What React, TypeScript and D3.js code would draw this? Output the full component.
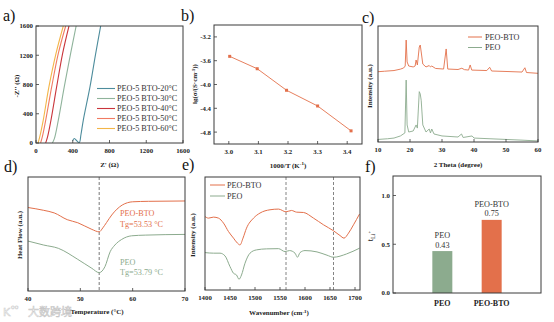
import React from "react";
import * as d3 from "d3";

const SERIF = "'Liberation Serif','Times New Roman',serif";
const ORANGE = "#e3704b";
const GREEN = "#8cab8e";
const AXIS = "#3a3a3a";

// ---------- panel a : EIS ----------
const eisLabels = ["PEO-5 BTO-20°C", "PEO-5 BTO-30°C", "PEO-5 BTO-40°C", "PEO-5 BTO-50°C", "PEO-5 BTO-60°C"];
const eisColors = ["#4d8c9c", "#8fb39b", "#c9353b", "#f07b62", "#f3b548"];
const eis20: [number, number][] = [[399, 30], [417, 62], [445, 30], [471, 5], [490, 120], [515, 314], [588, 770], [650, 1226], [704, 1600]];
const eis30: [number, number][] = [[178, 0], [200, 60], [243, 314], [308, 770], [377, 1226], [437, 1600]];
const eis40: [number, number][] = [[105, 0], [125, 80], [163, 314], [225, 770], [290, 1226], [359, 1600]];
const eis50: [number, number][] = [[50, 0], [70, 90], [106, 314], [171, 770], [243, 1226], [323, 1600]];
const eis60: [number, number][] = [[22, 0], [40, 80], [79, 314], [141, 770], [218, 1226], [297, 1600]];
const eisTicks = [0, 400, 800, 1200, 1600];

// ---------- panel b : Arrhenius ----------
const invT = [3.003, 3.096, 3.195, 3.3, 3.413];
const lgSigma = [-3.527, -3.735, -4.097, -4.361, -4.779];
const bXTicks = [3.0, 3.1, 3.2, 3.3, 3.4];
const bYTicks = [-3.2, -3.6, -4.0, -4.4, -4.8];

// ---------- panel c : XRD ----------
const xrdBTO: [number, number][] = [[10, 60.6], [12, 61], [15, 61.6], [17, 62.8], [18, 63.8], [18.5, 65.5], [18.8, 87.9], [19.1, 69], [19.6, 65.5], [21, 64.7], [21.6, 65.5], [21.9, 70.7], [22.3, 66.4], [22.9, 81.9], [23.2, 83.6], [23.5, 77.6], [24, 67.2], [25, 64.7], [26, 65.9], [26.4, 64.7], [26.8, 65.5], [28, 63.4], [30.5, 62.9], [31.3, 80.2], [31.8, 62.9], [35, 62.5], [36.2, 63.6], [37, 62.4], [38.3, 62], [38.8, 66.4], [39.3, 62], [44, 61.6], [44.9, 64.4], [45.5, 61.2], [50, 60.8], [55, 60.3], [55.9, 64], [56.4, 59.9], [60, 59.2]];
const xrdPEO: [number, number][] = [[10, 2.2], [13, 2.8], [15, 3.4], [17, 5.2], [18.4, 7.8], [18.8, 53.4], [19.1, 14.7], [19.6, 8.6], [21, 9.5], [21.9, 14.7], [22.3, 12], [22.9, 43.4], [23.2, 41.4], [23.5, 36], [24, 14.7], [25, 8.6], [26, 11.2], [26.4, 7.8], [26.8, 11.2], [27.5, 6.9], [30, 5.2], [35, 4.3], [36.1, 6.9], [36.6, 3.9], [39.4, 5.2], [40, 3.4], [45, 2.8], [50, 2.2], [55, 1.6], [60, 0.9]];
const cTicks = [10, 20, 30, 40, 50, 60];
const seriesNames = ["PEO-BTO", "PEO"];

// ---------- panel d : DSC ----------
const dscBTO: [number, number][] = [[40, 73.9], [43, 71.5], [45, 69.3], [47.5, 63.5], [49.5, 60.9], [52.2, 55.2], [53.6, 53.1], [54.3, 56.5], [55, 61], [56, 67.5], [57, 72.5], [58, 76], [59, 78], [60, 78.8], [63, 79.2], [70, 79.5]];
const dscPEO: [number, number][] = [[40, 45.2], [43, 41.8], [45.8, 39], [49.5, 29.6], [52.2, 21.9], [53.6, 18.2], [54.7, 23.3], [55.7, 36.1], [56.6, 41.8], [57.9, 46.6], [59.8, 49.7], [62.4, 50.3], [70, 50.9]];
const dTicks = [40, 50, 60, 70];
const tgLine = 53.6;
const tgLabels = ["Tg=53.53 °C", "Tg=53.79 °C"];

// ---------- panel e : FTIR ----------
const ftirBTO: [number, number][] = [[1400, 65.0], [1407, 63.6], [1417, 64.5], [1427, 63.6], [1437, 59.2], [1447, 51.7], [1457, 45.9], [1465, 41.4], [1470, 39.9], [1476, 45.9], [1483, 54.7], [1497, 63.6], [1510, 68.1], [1530, 71], [1547, 71.6], [1562, 69.2], [1573, 70.4], [1583, 68.9], [1597, 68.6], [1617, 63.6], [1637, 57.7], [1657, 52.4], [1670, 48.2], [1678, 45.9], [1687, 50.3], [1697, 57.7], [1709, 67.2]];
const ftirPEO: [number, number][] = [[1400, 33.1], [1417, 32.6], [1430, 32.6], [1440, 30.2], [1450, 20.7], [1457, 14.8], [1463, 13.3], [1468, 9.5], [1473, 13.3], [1480, 23.7], [1490, 32.6], [1503, 35.5], [1523, 36.4], [1547, 36.6], [1560, 34], [1569, 34.9], [1580, 32.6], [1585, 29], [1590, 33.1], [1600, 34.9], [1624, 33.7], [1644, 30.8], [1657, 29], [1683, 31.9], [1709, 37]];
const eTicks = [1400, 1450, 1500, 1550, 1600, 1650, 1700];
const eDashes = [1562, 1657];

// ---------- panel f : transference number ----------
const tCats = ["PEO", "PEO-BTO"];
const tVals = [0.43, 0.75];
const fTicks = [0.0, 0.5, 1.0];

type Sc = (v: number) => number;

function Box({ x0, x1, y0, y1 }: { x0: number; x1: number; y0: number; y1: number }) {
  return <rect x={x0} y={y0} width={x1 - x0} height={y1 - y0} fill="none" stroke={AXIS} strokeWidth={1} />;
}

function XTicks({ sc, vals, y, fmt, label = true }: { sc: Sc; vals: number[]; y: number; fmt: (v: number) => string; label?: boolean }) {
  return (
    <g>
      {vals.map((v) => (
        <g key={v}>
          <line x1={sc(v)} x2={sc(v)} y1={y} y2={y - 3} stroke={AXIS} strokeWidth={0.8} />
          {label && (
            <text x={sc(v)} y={y + 10} textAnchor="middle" fontSize={6.8} fontWeight="bold" fontFamily={SERIF} fill="#222">
              {fmt(v)}
            </text>
          )}
        </g>
      ))}
    </g>
  );
}

function YTicks({ sc, vals, x, fmt }: { sc: Sc; vals: number[]; x: number; fmt: (v: number) => string }) {
  return (
    <g>
      {vals.map((v) => (
        <g key={v}>
          <line x1={x} x2={x + 3} y1={sc(v)} y2={sc(v)} stroke={AXIS} strokeWidth={0.8} />
          <text x={x - 3} y={sc(v) + 2.4} textAnchor="end" fontSize={6.8} fontWeight="bold" fontFamily={SERIF} fill="#222">
            {fmt(v)}
          </text>
        </g>
      ))}
    </g>
  );
}

function YTitle({ x, y, children }: { x: number; y: number; children: React.ReactNode }) {
  return (
    <text transform={`translate(${x},${y}) rotate(-90)`} textAnchor="middle" fontSize={7} fontWeight="bold" fontFamily={SERIF} fill="#222">
      {children}
    </text>
  );
}

function XTitle({ x, y, children }: { x: number; y: number; children: React.ReactNode }) {
  return (
    <text x={x} y={y} textAnchor="middle" fontSize={7} fontWeight="bold" fontFamily={SERIF} fill="#222">
      {children}
    </text>
  );
}

function PanelLabel({ x, y, t }: { x: number; y: number; t: string }) {
  return (
    <text x={x} y={y} fontSize={16} fontFamily={SERIF} fill="#111">
      {t}
    </text>
  );
}

export default function App() {
  // ---- a
  const A = { x0: 36, x1: 183, y0: 26, y1: 143 };
  const ax = d3.scaleLinear().domain([0, 1600]).range([A.x0, A.x1]);
  const ay = d3.scaleLinear().domain([0, 1600]).range([A.y1, A.y0]);
  const aLine = d3.line<[number, number]>().x((d) => ax(d[0])).y((d) => ay(d[1])).curve(d3.curveCatmullRom);
  const eisAll = [eis20, eis30, eis40, eis50, eis60];

  // ---- b
  const B = { x0: 214, x1: 362, y0: 25, y1: 144 };
  const bx = d3.scaleLinear().domain([2.95, 3.45]).range([B.x0, B.x1]);
  const by = d3.scaleLinear().domain([-5.0, -3.0]).range([B.y1, B.y0]);
  const bPts = invT.map((t, i) => [t, lgSigma[i]] as [number, number]);
  const bLine = d3.line<[number, number]>().x((d) => bx(d[0])).y((d) => by(d[1]));

  // ---- c
  const C = { x0: 378, x1: 538, y0: 26, y1: 142 };
  const cx = d3.scaleLinear().domain([10, 60]).range([C.x0, C.x1]);
  const cy = d3.scaleLinear().domain([0, 100]).range([C.y1, C.y0]);
  const cLine = d3.line<[number, number]>().x((d) => cx(d[0])).y((d) => cy(d[1]));

  // ---- d
  const D = { x0: 28, x1: 185, y0: 177, y1: 291 };
  const dx = d3.scaleLinear().domain([40, 70]).range([D.x0, D.x1]);
  const dy = d3.scaleLinear().domain([2.5, 100]).range([D.y1, D.y0]);
  const dLine = d3.line<[number, number]>().x((d) => dx(d[0])).y((d) => dy(d[1])).curve(d3.curveMonotoneX);

  // ---- e
  const E = { x0: 205, x1: 360, y0: 177, y1: 290 };
  const ex = d3.scaleLinear().domain([1400, 1710]).range([E.x0, E.x1]);
  const ey = d3.scaleLinear().domain([0, 100]).range([E.y1, E.y0]);
  const eLine = d3.line<[number, number]>().x((d) => ex(d[0])).y((d) => ey(d[1])).curve(d3.curveMonotoneX);

  // ---- f
  const F = { x0: 393, x1: 541, y0: 176, y1: 293 };
  const fx = d3.scalePoint<string>().domain(tCats).range([F.x0, F.x1]).padding(1);
  const fy = d3.scaleLinear().domain([0, 1.2]).range([F.y1, F.y0]);
  const barW = 20;
  const fColors = [GREEN, ORANGE];

  return (
    <svg width={554} height={322} style={{ position: "absolute", left: 0, top: 0, background: "#fff" }} fontFamily={SERIF}>
      <rect x={0} y={0} width={554} height={322} fill="#fff" />
      <defs>
        <clipPath id="clipA">
          <rect x={A.x0} y={A.y0} width={A.x1 - A.x0} height={A.y1 - A.y0} />
        </clipPath>
      </defs>

      {/* ---------- a ---------- */}
      <PanelLabel x={3} y={21} t="a)" />
      <g clipPath="url(#clipA)">
        {eisAll.map((s, i) => (
          <path key={i} d={aLine(s) || ""} fill="none" stroke={eisColors[i]} strokeWidth={1.1} />
        ))}
      </g>
      <Box {...A} />
      <XTicks sc={ax} vals={eisTicks} y={A.y1} fmt={(v) => String(v)} />
      <YTicks sc={ay} vals={eisTicks} x={A.x0} fmt={(v) => String(v)} />
      <XTitle x={(A.x0 + A.x1) / 2} y={166.5}>Z' (Ω)</XTitle>
      <YTitle x={19} y={86}>-Z'' (Ω)</YTitle>
      {eisLabels.map((l, i) => (
        <g key={l}>
          <line x1={97} x2={115} y1={88.5 + i * 10} y2={88.5 + i * 10} stroke={eisColors[i]} strokeWidth={1.1} />
          <text x={117} y={91.3 + i * 10} fontSize={8.2} fontFamily={SERIF} fill="#333">
            {l}
          </text>
        </g>
      ))}

      {/* ---------- b ---------- */}
      <PanelLabel x={181} y={21} t="b)" />
      <Box {...B} />
      <path d={bLine(bPts) || ""} fill="none" stroke={ORANGE} strokeWidth={0.9} />
      {bPts.map((p, i) => (
        <rect key={i} x={bx(p[0]) - 1.5} y={by(p[1]) - 1.5} width={3} height={3} fill={ORANGE} />
      ))}
      <XTicks sc={bx} vals={bXTicks} y={B.y1} fmt={(v) => v.toFixed(1)} />
      <YTicks sc={by} vals={bYTicks} x={B.x0} fmt={(v) => v.toFixed(1)} />
      <XTitle x={288} y={167.5}>
        1000/T (K<tspan dy={-2.5} fontSize={5}>-1</tspan>
        <tspan dy={2.5}>)</tspan>
      </XTitle>
      <YTitle x={197} y={84}>
        lg(σ/(S·cm<tspan dy={-2.5} fontSize={5}>-1</tspan>
        <tspan dy={2.5}>))</tspan>
      </YTitle>

      {/* ---------- c ---------- */}
      <PanelLabel x={362} y={23} t="c)" />
      <path d={cLine(xrdBTO) || ""} fill="none" stroke={ORANGE} strokeWidth={0.9} />
      <path d={cLine(xrdPEO) || ""} fill="none" stroke={GREEN} strokeWidth={0.9} />
      <Box {...C} />
      <XTicks sc={cx} vals={cTicks} y={C.y1} fmt={(v) => String(v)} />
      <XTitle x={(C.x0 + C.x1) / 2} y={166.5}>2 Theta (degree)</XTitle>
      <YTitle x={372} y={86}>Intensity (a.u.)</YTitle>
      {seriesNames.map((n, i) => (
        <g key={n}>
          <line x1={468} x2={482} y1={37 + i * 10.5} y2={37 + i * 10.5} stroke={i === 0 ? ORANGE : GREEN} strokeWidth={1} />
          <text x={485} y={39.8 + i * 10.5} fontSize={8.2} fontFamily={SERIF} fill="#333">
            {n}
          </text>
        </g>
      ))}

      {/* ---------- d ---------- */}
      <PanelLabel x={4} y={172} t="d)" />
      <line x1={dx(tgLine)} x2={dx(tgLine)} y1={D.y0} y2={D.y1} stroke="#555" strokeWidth={0.8} strokeDasharray="3,2" />
      <path d={dLine(dscBTO) || ""} fill="none" stroke={ORANGE} strokeWidth={1} />
      <path d={dLine(dscPEO) || ""} fill="none" stroke={GREEN} strokeWidth={1} />
      <Box {...D} />
      <XTicks sc={dx} vals={dTicks} y={D.y1} fmt={(v) => String(v)} />
      <XTitle x={97} y={314}>Temperature (°C)</XTitle>
      <YTitle x={22} y={235}>Heat Flow (a.u.)</YTitle>
      <text x={120} y={216} fontSize={8.2} fontFamily={SERIF} fill={ORANGE}>PEO-BTO</text>
      <text x={120} y={227} fontSize={8.2} fontFamily={SERIF} fill={ORANGE}>{tgLabels[0]}</text>
      <text x={120} y={264.5} fontSize={8.2} fontFamily={SERIF} fill={GREEN}>PEO</text>
      <text x={120} y={274.5} fontSize={8.2} fontFamily={SERIF} fill={GREEN}>{tgLabels[1]}</text>

      {/* ---------- e ---------- */}
      <PanelLabel x={182} y={170} t="e)" />
      {eDashes.map((w) => (
        <line key={w} x1={ex(w)} x2={ex(w)} y1={E.y0} y2={E.y1} stroke="#666" strokeWidth={0.8} strokeDasharray="3,2" />
      ))}
      <path d={eLine(ftirBTO) || ""} fill="none" stroke={ORANGE} strokeWidth={1} />
      <path d={eLine(ftirPEO) || ""} fill="none" stroke={GREEN} strokeWidth={1} />
      <Box {...E} />
      <XTicks sc={ex} vals={eTicks} y={E.y1} fmt={(v) => String(v)} />
      <XTitle x={279} y={315}>
        Wavenumber (cm<tspan dy={-2.5} fontSize={5}>-1</tspan>
        <tspan dy={2.5}>)</tspan>
      </XTitle>
      <YTitle x={195} y={235}>Intensity (a.u.)</YTitle>
      {seriesNames.map((n, i) => (
        <g key={n}>
          <line x1={210} x2={225} y1={185 + i * 11} y2={185 + i * 11} stroke={i === 0 ? ORANGE : GREEN} strokeWidth={1} />
          <text x={227} y={187.8 + i * 11} fontSize={8.2} fontFamily={SERIF} fill="#333">
            {n}
          </text>
        </g>
      ))}

      {/* ---------- f ---------- */}
      <PanelLabel x={365} y={172} t="f)" />
      {tCats.map((c, i) => (
        <g key={c}>
          <rect x={(fx(c) as number) - barW / 2} y={fy(tVals[i])} width={barW} height={fy(0) - fy(tVals[i])} fill={fColors[i]} />
          <text x={fx(c) as number} y={fy(tVals[i]) - 13} textAnchor="middle" fontSize={8.2} fontFamily={SERIF} fill="#333">
            {c}
          </text>
          <text x={fx(c) as number} y={fy(tVals[i]) - 3.5} textAnchor="middle" fontSize={8.2} fontFamily={SERIF} fill="#333">
            {tVals[i].toFixed(2)}
          </text>
          <text x={fx(c) as number} y={306} textAnchor="middle" fontSize={8} fontWeight="bold" fontFamily={SERIF} fill="#222">
            {c}
          </text>
        </g>
      ))}
      <Box {...F} />
      <YTicks sc={fy} vals={fTicks} x={F.x0} fmt={(v) => v.toFixed(1)} />
      <text transform={`translate(${373},${236}) rotate(-90)`} textAnchor="middle" fontSize={8.5} fontFamily={SERIF} fill="#222">
        t<tspan dy={2} fontSize={6}>Li</tspan>
        <tspan dy={-4} fontSize={5}>+</tspan>
      </text>

      {/* watermark */}
      <g opacity={0.55}>
        <text x={3} y={316} fontSize={11} fontFamily="'DejaVu Sans',sans-serif" fill="none" stroke="#aaa" strokeWidth={0.6}>K</text>
        <text x={11} y={309} fontSize={6} fontFamily="'DejaVu Sans',sans-serif" fill="none" stroke="#aaa" strokeWidth={0.5}>oo</text>
        <text x={28} y={316} fontSize={11} fontFamily="'Noto Sans CJK SC',sans-serif" fill="#fff" stroke="#999" strokeWidth={0.6}>大数跨境</text>
      </g>
    </svg>
  );
}
